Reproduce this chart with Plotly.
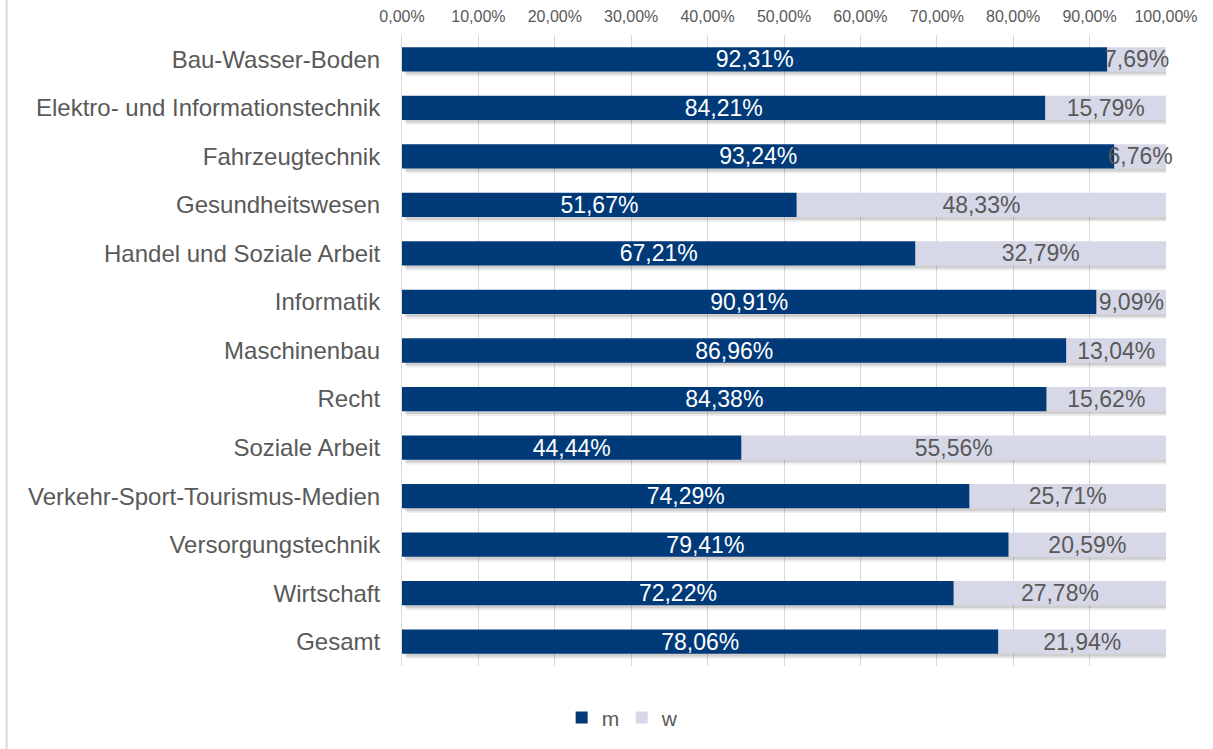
import plotly.graph_objects as go

categories = ["Bau-Wasser-Boden", "Elektro- und Informationstechnik", "Fahrzeugtechnik",
              "Gesundheitswesen", "Handel und Soziale Arbeit", "Informatik", "Maschinenbau",
              "Recht", "Soziale Arbeit", "Verkehr-Sport-Tourismus-Medien", "Versorgungstechnik",
              "Wirtschaft", "Gesamt"]
m_values = [92.31, 84.21, 93.24, 51.67, 67.21, 90.91, 86.96, 84.38, 44.44, 74.29, 79.41, 72.22, 78.06]
w_values = [7.69, 15.79, 6.76, 48.33, 32.79, 9.09, 13.04, 15.62, 55.56, 25.71, 20.59, 27.78, 21.94]
tick_values = [0, 10, 20, 30, 40, 50, 60, 70, 80, 90, 100]
tick_labels = [f"{v:.2f}%".replace(".", ",") for v in tick_values]

totals = [a + b for a, b in zip(m_values, w_values)]
FONT = "Liberation Sans, Arial, sans-serif"
GREY = "#595959"
BAR_W = 0.5

fig = go.Figure()

# soft shadow layers
for off, alpha, shift in [(0.10, 0.07, 0.6), (0.06, 0.12, 0.35)]:
    fig.add_trace(go.Bar(
        y=categories, x=totals, base=shift, orientation="h",
        width=BAR_W, offset=-BAR_W / 2 + off,
        marker=dict(color=f"rgba(0,0,0,{alpha})", line=dict(width=0)),
        showlegend=False, hoverinfo="skip", cliponaxis=False,
    ))

fig.add_trace(go.Bar(
    y=categories, x=m_values, name="m", orientation="h",
    width=BAR_W, offset=-BAR_W / 2,
    marker=dict(color="#003A78", line=dict(width=0)),
    texttemplate="%{x:.2f}%", textposition="inside", insidetextanchor="middle",
    constraintext="none", textangle=0, cliponaxis=False,
    insidetextfont=dict(family=FONT, size=23, color="white"),
))
fig.add_trace(go.Bar(
    y=categories, x=w_values, base=m_values, name="w", orientation="h",
    width=BAR_W, offset=-BAR_W / 2,
    marker=dict(color="#D6D8E7", line=dict(width=0)),
    texttemplate="%{x:.2f}%", textposition="inside", insidetextanchor="middle",
    constraintext="none", textangle=0, cliponaxis=False,
    insidetextfont=dict(family=FONT, size=23, color=GREY),
))

fig.update_layout(
    width=1213, height=749,
    margin=dict(l=402, r=47, t=35, b=83, autoexpand=False),
    barmode="overlay",
    separators=",.",
    paper_bgcolor="white", plot_bgcolor="white",
    font=dict(family=FONT, color=GREY),
    legend=dict(orientation="h", x=0.2875, xanchor="center", y=-0.082, yanchor="middle",
                font=dict(family=FONT, size=21, color=GREY), traceorder="normal",
                itemwidth=30, tracegroupgap=0, entrywidth=15, entrywidthmode="pixels"),
    xaxis=dict(side="top", range=[0, 100], tickvals=tick_values, ticktext=tick_labels,
               showgrid=True, gridcolor="#D9D9D9", gridwidth=1, zeroline=False,
               showline=False, ticks="", ticklabelstandoff=9,
               tickfont=dict(family=FONT, size=16, color=GREY), fixedrange=True),
    yaxis=dict(autorange="reversed", showgrid=False, showline=True, linecolor="#D9D9D9",
               linewidth=1, ticks="", ticklabelstandoff=16,
               tickfont=dict(family=FONT, size=24, color=GREY)),
    shapes=[dict(type="line", xref="paper", yref="paper", x0=-0.5175, x1=-0.5175,
                 y0=-0.2, y1=1.1, line=dict(color="#D9D9D9", width=2))],
)

fig.write_html("out.html")
